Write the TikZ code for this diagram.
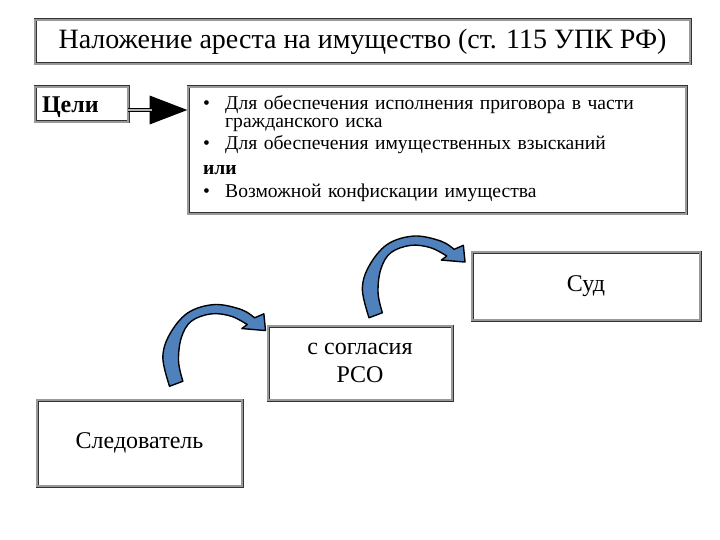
\documentclass[tikz,border=0pt]{standalone}
\usepackage{fontspec}
\setmainfont{Liberation Serif}
\usetikzlibrary{positioning,calc,arrows.meta}
\definecolor{arrowblue}{RGB}{79,129,189}
\tikzset{
  box/.style   ={draw=black!80, double=black!40, double distance=1.2pt,
                 line width=0.9pt, fill=white, inner sep=0pt},
  bendarrow/.pic={
    \filldraw[fill=arrowblue, draw=black, line width=1.4pt, line join=round]
      plot[smooth, tension=0.6] coordinates {(-6.5,2.2) (-13.2,-26.2) (-6.5,-49.5)
        (11.8,-71.2) (38.5,-79.5) (65.2,-74.5) (78.5,-66.2)}
      -- (87.8,-70.2) -- (89.5,-53.5) -- (65.8,-55.5) -- (71.2,-59.5)
      -- plot[smooth, tension=0.6] coordinates {(71.2,-59.5) (55.2,-67.8) (35.2,-70.2)
        (15.2,-62.8) (5.2,-46.2) (2.5,-22.8) (6.8,-2.8)}
      -- cycle;
  },
}
\newcommand\goalitem{\makebox[22pt][l]{\textbullet}}

\begin{document}
\begin{tikzpicture}[x=1pt,y=-1pt]
  \useasboundingbox[fill=white] (0,0) rectangle (720,540);

  % header
  \node[box, minimum width=655pt, minimum height=44pt, font=\fontsize{28}{30}\selectfont]
    (title) at (362.5,42) {Наложение ареста на имущество (ст. 115 УПК РФ)};

  % goals
  \node[box, minimum width=93pt, minimum height=35pt, text depth=0pt,
    font=\fontsize{24}{26}\selectfont\bfseries] (tseli) at (81.5,104.5)
    {\makebox[79pt][l]{Цели}};
  \node[box, minimum width=498pt, minimum height=127pt] (goals) at (437,150.5) {};
  \node[anchor=base west, inner sep=0pt, text width=460pt, align=left,
    font=\fontsize{19.6}{18}\selectfont] (goaltext) at (203,110) {%
    \lineskiplimit=-20pt
    \hangindent=22pt\hangafter=1
    \goalitem Для обеспечения исполнения приговора в части гражданского иска\par
    \vspace{4pt}
    \goalitem Для обеспечения имущественных взысканий\par
    \vspace{7pt}
    \textbf{или}\par
    \vspace{5pt}
    \goalitem Возможной конфискации имущества\par};

  \coordinate (shaftstart) at ([yshift=-5.5pt]tseli.east);
  \draw[line width=3.6pt, -{Triangle[length=38pt, width=28pt]}]
    (shaftstart) -- (shaftstart -| goals.west);
  \draw[black!30, line width=1.3pt] (shaftstart) -- ++(24,0);

  % steps
  \node[box, minimum width=205pt, minimum height=86pt, font=\fontsize{24}{28}\selectfont]
    (sled) at (139.5,443) {Следователь};
  \node[box, minimum width=184pt, minimum height=74pt, align=center,
    font=\fontsize{24}{28}\selectfont] (rso) at (360,363) {с согласия\\РСО};
  \node[box, minimum width=228pt, minimum height=68pt, font=\fontsize{24}{28}\selectfont]
    (sud) at (586,286) {Суд};

  \coordinate (bend1) at ($(sled.north west)+(139.5,-15.5)$);
  \coordinate (bend2) at ($(rso.north west)+(108,-10)$);
  \pic at (bend1) {bendarrow};
  \pic at (bend2) {bendarrow};
\end{tikzpicture}
\end{document}
